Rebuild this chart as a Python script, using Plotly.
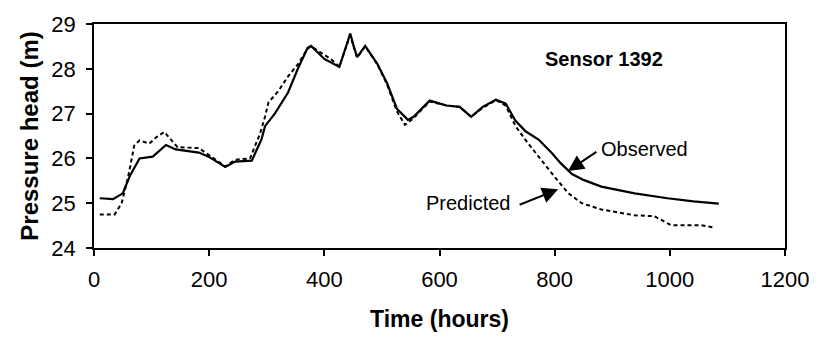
import plotly.graph_objects as go

# Observed series
obs_t = [10, 33, 50, 62, 79, 102, 125, 142, 182, 199, 228, 245, 274, 291, 297, 314, 337, 354,
         371, 377, 400, 426, 437, 445, 451, 457, 471, 492, 509, 526, 545, 555, 583, 612, 635,
         655, 675, 698, 715, 732, 750, 772, 795, 810, 830, 850, 881, 939, 996, 1041, 1085]
obs_h = [25.11, 25.09, 25.22, 25.6, 26.0, 26.04, 26.3, 26.2, 26.13, 26.04, 25.81, 25.93, 25.95,
         26.43, 26.72, 27.0, 27.47, 28.0, 28.47, 28.51, 28.22, 28.04, 28.47, 28.79, 28.5, 28.26,
         28.51, 28.11, 27.68, 27.11, 26.86, 26.93, 27.29, 27.18, 27.15, 26.93, 27.15, 27.31,
         27.22, 26.84, 26.6, 26.42, 26.12, 25.9, 25.65, 25.52, 25.37, 25.22, 25.11, 25.04, 24.99]

# Predicted series
pred_t = [10, 36, 48, 59, 70, 79, 96, 108, 122, 134, 145, 182, 196, 228, 245, 271, 280, 288,
          297, 303, 320, 337, 354, 371, 377, 411, 426, 437, 445, 451, 457, 471, 492, 509, 526,
          540, 555, 583, 612, 635, 655, 675, 698, 715, 732, 750, 772, 801, 824, 847, 881, 939,
          973, 990, 1002, 1053, 1076]
pred_h = [24.75, 24.75, 25.0, 25.57, 26.29, 26.4, 26.33, 26.47, 26.59, 26.4, 26.25, 26.23, 26.1,
          25.82, 25.97, 26.0, 26.29, 26.54, 26.93, 27.25, 27.5, 27.83, 28.1, 28.45, 28.5, 28.22,
          28.05, 28.45, 28.75, 28.5, 28.25, 28.5, 28.1, 27.65, 27.05, 26.75, 26.9, 27.27, 27.18,
          27.15, 26.93, 27.13, 27.3, 27.18, 26.72, 26.4, 26.04, 25.57, 25.22, 25.0, 24.86, 24.73,
          24.71, 24.6, 24.51, 24.51, 24.46]

x_ticks = [0, 200, 400, 600, 800, 1000, 1200]
y_ticks = [24, 25, 26, 27, 28, 29]

FONT = "Liberation Sans, Arial, sans-serif"

fig = go.Figure()
fig.add_trace(go.Scatter(x=pred_t, y=pred_h, mode="lines", name="Predicted",
                         line=dict(color="black", width=2, dash="4px,3px")))
fig.add_trace(go.Scatter(x=obs_t, y=obs_h, mode="lines", name="Observed",
                         line=dict(color="black", width=2.2)))

axis_common = dict(showline=True, linecolor="black", linewidth=1.5, mirror=True,
                   ticks="outside", ticklen=6, tickcolor="black", tickwidth=1.5,
                   showgrid=False, zeroline=False,
                   tickfont=dict(family=FONT, size=22, color="black"))

fig.update_xaxes(range=[0, 1200], tickvals=x_ticks, ticklabelstandoff=5,
                 title=dict(text="<b>Time (hours)</b>", font=dict(family=FONT, size=23, color="black"),
                            standoff=20),
                 **axis_common)
fig.update_yaxes(range=[24, 29], tickvals=y_ticks, ticklabelstandoff=6,
                 title=dict(text="<b>Pressure head (m)</b>", font=dict(family=FONT, size=24, color="black"),
                            standoff=6),
                 **axis_common)

annots = [
    dict(x=885, y=28.23, text="<b>Sensor 1392</b>", showarrow=False,
         font=dict(family=FONT, size=20, color="black")),
    dict(x=956, y=26.21, text="Observed", showarrow=False,
         font=dict(family=FONT, size=20, color="black")),
    dict(x=650, y=25.0, text="Predicted", showarrow=False,
         font=dict(family=FONT, size=20, color="black")),
    dict(x=823, y=25.72, ax=30, ay=-20, text="", showarrow=True,
         arrowhead=2, arrowsize=1.6, arrowwidth=2, arrowcolor="black"),
    dict(x=806, y=25.31, ax=-40, ay=16, text="", showarrow=True,
         arrowhead=2, arrowsize=1.6, arrowwidth=2, arrowcolor="black"),
]
for a in annots:
    a.update(xref="x", yref="y")
fig.update_layout(annotations=annots)

fig.update_layout(width=821, height=340, margin=dict(l=94, r=29, t=17, b=90),
                  plot_bgcolor="white", paper_bgcolor="white", showlegend=False,
                  font=dict(family=FONT, color="black"))

fig.write_html("out.html")
